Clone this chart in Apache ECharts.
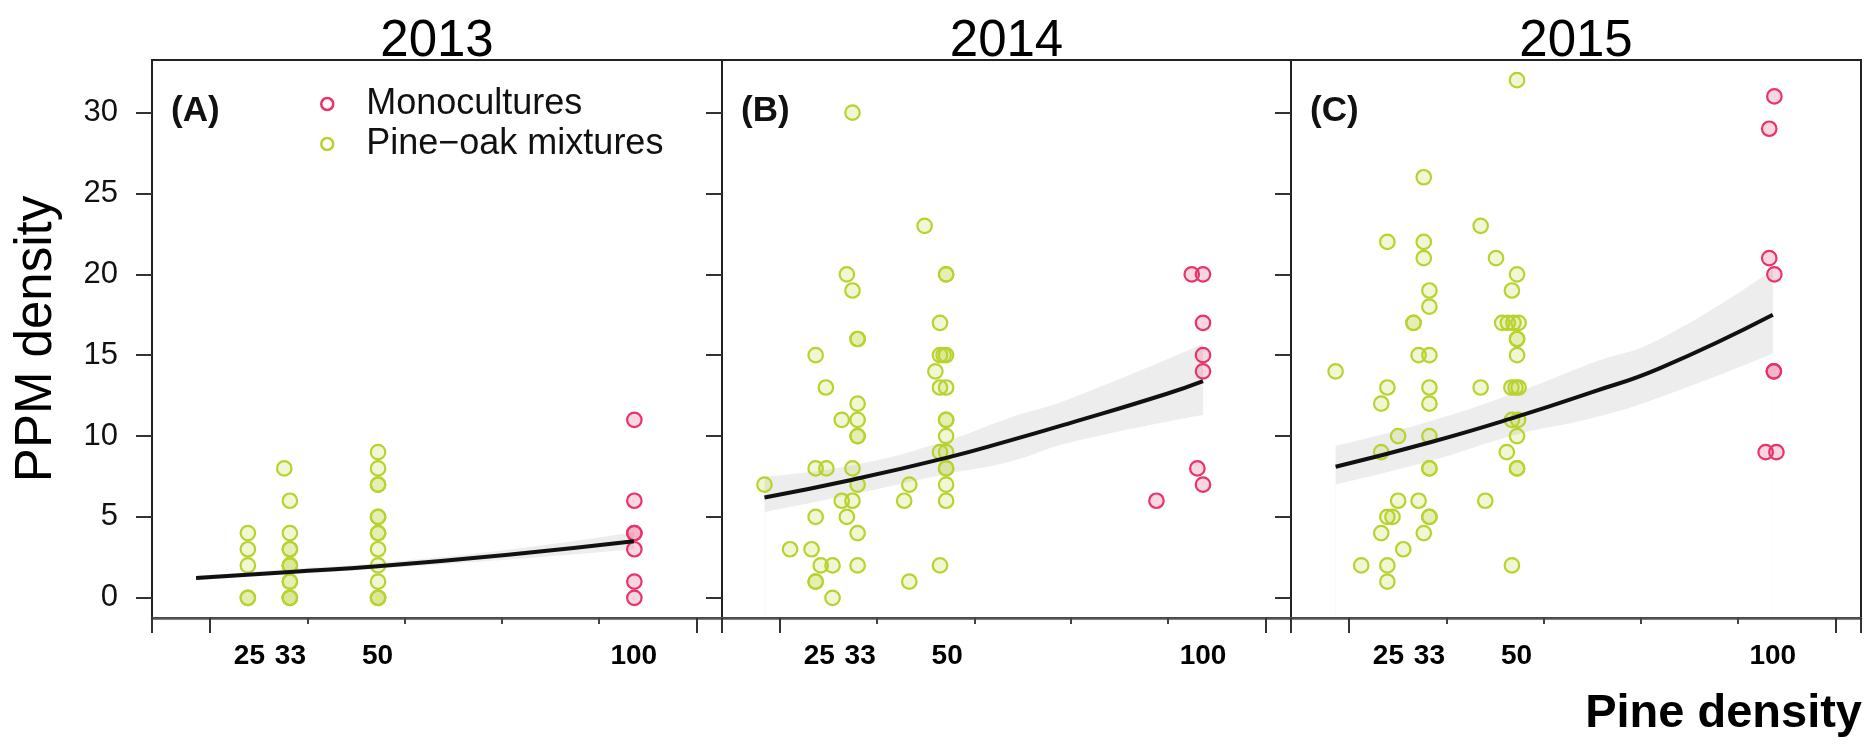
<!DOCTYPE html>
<html>
<head>
<meta charset="utf-8">
<title>PPM density vs pine density</title>
<script src="https://cdn.jsdelivr.net/npm/echarts@6.0.0/dist/echarts.min.js"></script>
<style>
html, body { margin: 0; padding: 0; background: #fff; }
#main { width: 1875px; height: 747px; }
</style>
</head>
<body>
<div id="main"></div>
<script>
var years = ['2013', '2014', '2015'];
var letters = ['(A)', '(B)', '(C)'];
var xLabels = [25, 33, 50, 100];
var xTicks = [36.3, 55.3, 74.2, 93.1];
var xTicksLong = [6, 17.3, 112.2, 117.2];
var yTicks = [0, 5, 10, 15, 20, 25, 30];

// points: [pine density (jittered as plotted), PPM density]
var mix2013 = [[24.7,4],[24.7,3],[24.7,2],[24.7,0],[24.7,0],
  [31.8,8],[32.9,6],[32.9,4],[32.9,3],[32.9,3],[32.9,2],[32.9,2],[32.9,2],[32.9,1],[32.9,1],[32.9,0],[32.9,0],[32.9,0],
  [50.1,9],[50.1,8],[50.1,7],[50.1,7],[50.1,5],[50.1,5],[50.1,4],[50.1,4],[50.1,3],[50.1,2],[50.1,1],[50.1,0],[50.1,0],[50.1,0]];
var mono2013 = [[100.1,11],[100.1,6],[100.1,4],[100.1,4],[100.1,3],[100.1,1],[100.1,0]];

var mix2014 = [[31.5,30],[45.6,23],[30.4,20],[49.8,20],[49.8,20],[31.5,19],[48.6,17],[32.5,16],[32.5,16],[24.3,15],
  [48.6,15],[49.3,15],[49.8,15],[47.7,14],[48.6,13],[49.8,13],[26.3,13],[32.5,12],[29.4,11],[32.5,11],[49.8,11],[49.8,11],
  [32.5,10],[32.5,10],[49.8,10],[48.6,9],[49.8,9],[24.3,8],[26.4,8],[31.5,8],[49.8,8],[49.8,8],[14.3,7],[32.5,7],[42.6,7],
  [49.8,7],[29.4,6],[31.5,6],[41.6,6],[49.8,6],[24.3,5],[30.4,5],[32.5,4],[19.3,3],[23.5,3],[25.3,2],[27.6,2],[32.5,2],
  [48.6,2],[24.3,1],[24.3,1],[42.6,1],[27.6,0]];
var mono2014 = [[97.8,20],[100,20],[100,17],[100,15],[100,14],[98.9,8],[100,7],[90.9,6]];

var mix2015 = [[50.1,32],[31.9,26],[43.0,23],[24.8,22],[31.9,22],[31.9,21],[46.0,21],[50.1,20],[49.1,19],[33.0,19],
  [33.0,18],[29.9,17],[29.9,17],[47.2,17],[48.3,17],[49.4,17],[50.4,17],[50.1,16],[50.1,16],[30.9,15],[33.0,15],[50.1,15],
  [14.7,14],[24.8,13],[33.0,13],[43.0,13],[49.0,13],[49.8,13],[50.4,13],[23.6,12],[33.0,12],[49.1,11],[50.3,11],[26.9,10],
  [33.0,10],[50.1,10],[23.6,9],[48.1,9],[33.0,8],[33.0,8],[50.1,8],[50.1,8],[26.9,6],[30.9,6],[43.9,6],[24.8,5],[25.8,5],
  [33.0,5],[33.0,5],[23.6,4],[31.9,4],[27.9,3],[19.7,2],[24.8,2],[49.1,2],[24.8,1]];
var mono2015 = [[100.3,31],[99.3,29],[99.3,21],[100.3,20],[100.2,14],[100.2,14],[98.6,9],[100.7,9]];

// fitted curve [x, y] and its band edges [x, y]
var fit2013 = [[14.6,1.22],[33,1.6],[50,1.95],[75,2.65],[100,3.5]];
var upper2013 = [[14.6,1.35],[33,1.78],[50,2.15],[75,2.95],[100,4.05]];
var lower2013 = [[14.6,1.1],[33,1.45],[50,1.8],[75,2.35],[100,3.0]];
var fit2014 = [[14.3,6.2],[31.5,7.3],[49.8,8.65],[62,9.7],[74,10.8],[92.8,12.6],[100,13.4]];
var upper2014 = [[14.3,7.5],[31.5,8.2],[49.8,9.7],[62,11.1],[74,12.3],[100,15.7]];
var lower2014 = [[14.3,5.3],[31.5,6.4],[49.8,7.66],[62,8.4],[74,9.6],[100,11.3]];
var fit2015 = [[14.7,8.1],[33,9.6],[50.1,11.2],[64.6,12.7],[78,14.2],[100,17.5]];
var upper2015 = [[14.7,9.4],[33,10.9],[50.1,12.7],[64.6,14.5],[78,16.0],[100,20.3]];
var lower2015 = [[14.7,7.0],[33,8.45],[50.1,10.1],[64.6,11.1],[78,12.4],[100,15.1]];

var mixData = [mix2013, mix2014, mix2015];
var monoData = [mono2013, mono2014, mono2015];
var fitData = [fit2013, fit2014, fit2015];
var upperData = [upper2013, upper2014, upper2015];
var lowerData = [lower2013, lower2014, lower2015];

var gridLeft = [152, 722, 1291];
var gridWidth = [570, 569, 570];
var green = '#b9d22e', red = '#e8336b';

var myChart = echarts.init(document.getElementById('main'));

var grid = [], xAxis = [], yAxis = [], series = [], title = [];

for (var i = 0; i < 3; i++) {
  grid.push({left: gridLeft[i], top: 60, width: gridWidth[i], height: 558,
    show: true, borderColor: '#222', borderWidth: 2});

  xAxis.push({
    gridIndex: i, type: 'value', min: 6, max: 117.2, position: 'bottom',
    axisLine: {onZero: false, lineStyle: {color: '#555', width: 2.5}},
    axisTick: {customValues: xTicks, length: 6, lineStyle: {color: '#444', width: 2}},
    axisLabel: {customValues: xLabels, margin: 24, fontSize: 28, fontWeight: 'bold', color: '#000'},
    splitLine: {show: false}
  });
  xAxis.push({
    gridIndex: i, type: 'value', min: 6, max: 117.2, position: 'bottom',
    axisLine: {show: false, onZero: false},
    axisTick: {customValues: xTicksLong, length: 15, lineStyle: {color: '#333', width: 2}},
    axisLabel: {show: false},
    splitLine: {show: false}
  });

  yAxis.push({
    gridIndex: i, type: 'value', min: -1.25, max: 33.25,
    axisLine: {show: true, onZero: false, lineStyle: {color: '#222', width: 2}},
    axisTick: {show: true, customValues: yTicks, length: 16, lineStyle: {color: '#333', width: 2}},
    axisLabel: {show: i === 0, customValues: yTicks, margin: 34, fontSize: 31, color: '#111'},
    splitLine: {show: false},
    name: i === 0 ? 'PPM density' : '',
    nameLocation: 'middle', nameRotate: 90, nameGap: 90,
    nameTextStyle: {fontSize: 51, color: '#000'}
  });

  // confidence band: grey area under the upper edge, white area under the lower edge
  series.push({
    type: 'line', xAxisIndex: 2 * i, yAxisIndex: i, silent: true, z: -1,
    smooth: true, symbol: 'none', lineStyle: {width: 0, opacity: 0},
    areaStyle: {color: '#ededed', opacity: 1, origin: 'start'},
    data: upperData[i]
  });
  series.push({
    type: 'line', xAxisIndex: 2 * i, yAxisIndex: i, silent: true, z: -1,
    smooth: true, symbol: 'none', lineStyle: {width: 0, opacity: 0},
    areaStyle: {color: '#ffffff', opacity: 1, origin: 'start'},
    data: lowerData[i]
  });
  series.push({
    name: 'Pine\u2212oak mixtures', type: 'scatter', xAxisIndex: 2 * i, yAxisIndex: i,
    symbolSize: 14.5,
    itemStyle: {color: 'rgba(185,210,46,0.2)', borderColor: green, borderWidth: 2.2, opacity: 1},
    data: mixData[i]
  });
  series.push({
    name: 'Monocultures', type: 'scatter', xAxisIndex: 2 * i, yAxisIndex: i,
    symbolSize: 14.5,
    itemStyle: {color: 'rgba(232,51,107,0.2)', borderColor: red, borderWidth: 2.2, opacity: 1},
    data: monoData[i]
  });
  series.push({
    type: 'line', xAxisIndex: 2 * i, yAxisIndex: i, silent: true,
    smooth: true, symbol: 'none', lineStyle: {color: '#111', width: 4},
    data: fitData[i]
  });

  title.push({text: years[i], left: gridLeft[i] + gridWidth[i] / 2, top: 16, textAlign: 'center', padding: 0,
    textStyle: {fontSize: 51, fontWeight: 'normal', color: '#000'}});
  title.push({text: letters[i], left: gridLeft[i] + 19, top: 94, padding: 0,
    textStyle: {fontSize: 35, fontWeight: 'bold', color: '#111'}});
}

title.push({text: 'Pine density', right: 13, top: 691, padding: 0,
  textStyle: {fontSize: 47, fontWeight: 'bold', color: '#000'}});

option = {
  animation: false,
  backgroundColor: '#fff',
  textStyle: {fontFamily: 'Liberation Sans'},
  title: title,
  legend: {
    orient: 'vertical', left: 315, top: 81, itemGap: 4,
    icon: 'circle', itemWidth: 68, itemHeight: 12,
    textStyle: {fontSize: 36, color: '#111'},
    data: [
      {name: 'Monocultures', itemStyle: {color: '#fff', borderColor: red, borderWidth: 2.5}},
      {name: 'Pine\u2212oak mixtures', itemStyle: {color: '#fff', borderColor: green, borderWidth: 2.5}}
    ]
  },
  grid: grid,
  xAxis: xAxis,
  yAxis: yAxis,
  series: series
};

myChart.setOption(option);
</script>
</body>
</html>
